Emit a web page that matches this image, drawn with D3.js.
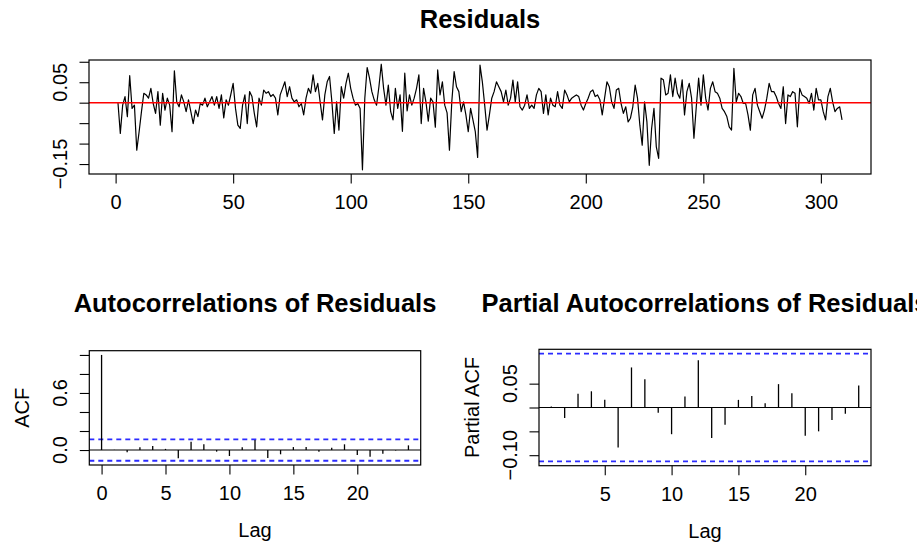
<!DOCTYPE html>
<html>
<head>
<meta charset="utf-8">
<script src="https://cdn.jsdelivr.net/npm/d3@7"></script>
<style>
  body { margin: 0; background: #ffffff; }
  svg text { font-family: "Liberation Sans", Arial, sans-serif; fill: #000; }
</style>
</head>
<body>
<div id="chart"></div>
<script>
// residual series (t = 1..309)
const residuals = [
  0.000, -0.075, -0.006, 0.015, -0.034, 0.066, -0.014, -0.006, -0.116, -0.071,
  -0.022, 0.023, 0.019, 0.011, 0.035, -0.002, -0.026, 0.027, -0.055, 0.023,
  -0.018, 0.011, -0.006, -0.071, 0.078, 0.002, -0.010, 0.019, 0.002, -0.022,
  0.007, -0.022, -0.051, -0.018, -0.034, -0.002, -0.006, 0.011, -0.010, 0.002,
  0.015, -0.006, 0.015, -0.014, 0.019, -0.037, 0.007, -0.006, 0.020, 0.047,
  -0.014, -0.055, -0.063, -0.006, 0.019, -0.051, 0.027, 0.015, -0.026, -0.059,
  0.011, -0.006, 0.031, 0.023, 0.027, 0.015, 0.020, 0.011, -0.030, 0.019,
  0.035, 0.051, 0.015, 0.039, 0.011, 0.002, 0.007, -0.010, -0.002, -0.030,
  0.011, 0.035, 0.023, 0.068, 0.027, 0.047, 0.002, -0.042, 0.019, 0.051,
  0.064, 0.002, -0.075, 0.002, -0.067, 0.039, 0.011, 0.047, 0.072, 0.035,
  0.011, -0.006, -0.002, -0.014, -0.164, 0.011, 0.086, 0.060, 0.027, 0.007,
  -0.006, 0.039, 0.094, 0.035, -0.006, 0.043, -0.022, -0.042, 0.035, -0.014,
  0.019, -0.070, 0.072, -0.020, 0.019, -0.006, 0.011, 0.035, 0.068, -0.051,
  0.035, 0.002, -0.045, 0.011, 0.002, -0.060, 0.080, 0.019, 0.051, -0.006,
  -0.025, -0.116, 0.002, 0.076, 0.039, 0.027, -0.022, 0.002, -0.030, -0.071,
  -0.014, -0.042, -0.071, -0.134, 0.092, 0.051, -0.006, -0.067, -0.030, 0.011,
  0.027, 0.051, 0.039, 0.027, 0.002, 0.031, -0.006, 0.011, 0.055, 0.002,
  0.051, -0.010, -0.018, -0.006, 0.019, -0.014, -0.006, -0.014, 0.019, 0.035,
  0.027, -0.026, 0.019, -0.030, 0.011, -0.006, -0.010, 0.027, -0.006, -0.014,
  0.031, 0.019, 0.002, 0.011, 0.015, 0.019, 0.015, -0.006, -0.018, -0.002,
  0.011, 0.027, 0.031, 0.015, 0.019, 0.007, -0.030, 0.011, 0.051, 0.039,
  0.002, -0.014, 0.031, 0.035, -0.002, -0.026, -0.010, -0.047, -0.038, -0.010,
  0.043, 0.011, -0.055, -0.104, 0.002, -0.047, -0.153, -0.063, -0.014, -0.108,
  -0.136, 0.060, 0.056, 0.019, 0.023, 0.068, 0.015, 0.060, 0.023, 0.011,
  0.056, -0.030, 0.027, 0.047, 0.011, -0.087, -0.010, 0.060, -0.006, 0.068,
  0.011, -0.018, 0.035, 0.051, 0.027, 0.023, 0.011, -0.014, -0.022, -0.034,
  -0.059, -0.067, 0.084, 0.002, 0.023, 0.015, -0.002, -0.002, -0.030, -0.067,
  0.019, 0.035, -0.006, -0.022, -0.038, -0.018, 0.011, 0.047, 0.027, 0.027,
  0.015, -0.002, -0.014, 0.039, -0.051, 0.019, 0.015, 0.027, 0.023, -0.059,
  0.035, 0.019, 0.015, 0.011, -0.002, 0.023, -0.018, 0.035, 0.007, 0.007,
  -0.022, -0.042, 0.015, 0.035, 0.002, -0.022, -0.014, -0.010, -0.042
];

const acfLags = [0, 1, 2, 3, 4, 5, 6, 7, 8, 9, 10, 11, 12, 13, 14, 15, 16, 17, 18, 19, 20, 21, 22, 23, 24];
const acfValues = [1, 0.002, -0.024, 0.028, 0.042, 0.012, -0.087, 0.087, 0.060, -0.017, -0.063, 0.028,
  0.105, -0.084, -0.045, 0.031, 0.031, -0.017, 0.024, 0.060, -0.052, -0.070, -0.038, -0.005, 0.049];

const pacfLags = [1, 2, 3, 4, 5, 6, 7, 8, 9, 10, 11, 12, 13, 14, 15, 16, 17, 18, 19, 20, 21, 22, 23, 24];
const pacfValues = [0.002, -0.022, 0.029, 0.034, 0.016, -0.084, 0.084, 0.059, -0.011, -0.056, 0.023, 0.099,
  -0.064, -0.036, 0.016, 0.024, 0.009, 0.049, 0.030, -0.059, -0.050, -0.026, -0.013, 0.046];

const ciBound = 0.113;

// tick values and the labels R actually kept (overlapping ones dropped)
const topXTicks = [0, 50, 100, 150, 200, 250, 300];
const topXLabels = ["0", "50", "100", "150", "200", "250", "300"];
const topYTicks = [-0.15, -0.10, -0.05, 0, 0.05, 0.10];
const topYLabels = ["\u22120.15", "", "", "", "0.05", ""];
const acfXTicks = [0, 5, 10, 15, 20];
const acfXLabels = ["0", "5", "10", "15", "20"];
const acfYTicks = [0, 0.2, 0.4, 0.6, 0.8, 1.0];
const acfYLabels = ["0.0", "", "", "0.6", "", ""];
const pacfXTicks = [5, 10, 15, 20];
const pacfXLabels = ["5", "10", "15", "20"];
const pacfYTicks = [-0.10, -0.05, 0, 0.05];
const pacfYLabels = ["\u22120.10", "", "", "0.05"];

const W = 917, H = 544;
const AXIS_FONT = 20, TITLE_FONT = 25.5, TICK = 9.5;

const svg = d3.select("#chart").append("svg")
  .attr("width", W).attr("height", H)
  .attr("viewBox", "0 0 " + W + " " + H);

// R style axis range: data range widened by 4% on each side
var rpad = function (ext) {
  var d = (ext[1] - ext[0]) * 0.04;
  return [ext[0] - d, ext[1] + d];
};

function drawPanel(box, x, y, opts) {
  var g = svg.append("g");

  // x axis ticks + labels
  var gx = g.append("g")
    .attr("transform", "translate(0," + box.bottom + ")")
    .call(d3.axisBottom(x).tickValues(opts.xTicks)
      .tickFormat(function (d, i) { return opts.xLabels[i]; })
      .tickSize(TICK).tickPadding(11.5));
  gx.select(".domain").remove();
  gx.selectAll("line").attr("stroke", "#000").attr("stroke-width", 1.1);
  gx.selectAll("text").attr("font-size", AXIS_FONT + "px").attr("font-family", null);

  // y axis ticks, labels rotated like R's las = 0
  var gy = g.append("g")
    .attr("transform", "translate(" + box.left + ",0)")
    .call(d3.axisLeft(y).tickValues(opts.yTicks).tickFormat("").tickSize(TICK));
  gy.select(".domain").remove();
  gy.selectAll("line").attr("stroke", "#000").attr("stroke-width", 1.1);

  g.selectAll(".ylab")
    .data(opts.yTicks.filter(function (d, i) { return opts.yLabels[i] !== ""; }))
    .enter()
    .append("text")
    .attr("class", "ylab")
    .attr("transform", function (d) {
      return "translate(" + (box.left - 22) + "," + y(d) + ") rotate(-90)";
    })
    .attr("text-anchor", "middle")
    .attr("font-size", AXIS_FONT + "px")
    .text(function (d) { return opts.yLabels[opts.yTicks.indexOf(d)]; });

  if (opts.xTitle) {
    g.append("text")
      .attr("x", (box.left + box.right) / 2)
      .attr("y", box.bottom + 72)
      .attr("text-anchor", "middle")
      .attr("font-size", AXIS_FONT + "px")
      .text(opts.xTitle);
  }
  if (opts.yTitle) {
    g.append("text")
      .attr("transform", "translate(" + (box.left - 60) + "," + ((box.top + box.bottom) / 2) + ") rotate(-90)")
      .attr("text-anchor", "middle")
      .attr("font-size", AXIS_FONT + "px")
      .text(opts.yTitle);
  }

  // the right hand title runs past the page edge in the original too
  g.append("text")
    .attr("x", (box.left + box.right) / 2)
    .attr("y", opts.titleY)
    .attr("text-anchor", "middle")
    .attr("font-size", TITLE_FONT + "px")
    .attr("font-weight", "bold")
    .text(opts.title);

  return g;
}

function drawFrame(box) {
  svg.append("rect")
    .attr("x", box.left).attr("y", box.top)
    .attr("width", box.right - box.left).attr("height", box.bottom - box.top)
    .attr("fill", "none").attr("stroke", "#000").attr("stroke-width", 1.2);
}

/* ---- top: residual series ---- */
var topBox = { left: 89, right: 871, top: 60, bottom: 174 };
var xTop = d3.scaleLinear().domain(rpad([1, residuals.length])).range([topBox.left, topBox.right]);
var yTop = d3.scaleLinear().domain(rpad(d3.extent(residuals))).range([topBox.bottom, topBox.top]);

drawPanel(topBox, xTop, yTop, {
  xTicks: topXTicks, xLabels: topXLabels,
  yTicks: topYTicks, yLabels: topYLabels,
  title: "Residuals", titleY: 28
});

svg.append("path")
  .datum(residuals)
  .attr("fill", "none")
  .attr("stroke", "#000")
  .attr("stroke-width", 1.2)
  .attr("stroke-linejoin", "round")
  .attr("d", d3.line()
    .x(function (d, i) { return xTop(i + 1); })
    .y(function (d) { return yTop(d); }));

svg.append("line")
  .attr("x1", topBox.left).attr("x2", topBox.right)
  .attr("y1", yTop(0)).attr("y2", yTop(0))
  .attr("stroke", "#ff0000").attr("stroke-width", 1.4);

drawFrame(topBox);

/* ---- bottom left: ACF ---- */
var acfBox = { left: 89.3, right: 420.7, top: 350.7, bottom: 465 };
var xAcf = d3.scaleLinear().domain(rpad(d3.extent(acfLags))).range([acfBox.left, acfBox.right]);
var yAcf = d3.scaleLinear()
  .domain(rpad([Math.min(-ciBound, d3.min(acfValues)), Math.max(ciBound, d3.max(acfValues))]))
  .range([acfBox.bottom, acfBox.top]);

drawPanel(acfBox, xAcf, yAcf, {
  xTicks: acfXTicks, xLabels: acfXLabels,
  yTicks: acfYTicks, yLabels: acfYLabels,
  xTitle: "Lag", yTitle: "ACF",
  title: "Autocorrelations of Residuals", titleY: 312
});

/* ---- bottom right: PACF ---- */
var pacfBox = { left: 539, right: 871, top: 349.3, bottom: 465.7 };
var xPacf = d3.scaleLinear().domain(rpad(d3.extent(pacfLags))).range([pacfBox.left, pacfBox.right]);
var yPacf = d3.scaleLinear()
  .domain(rpad([Math.min(-ciBound, d3.min(pacfValues)), Math.max(ciBound, d3.max(pacfValues))]))
  .range([pacfBox.bottom, pacfBox.top]);

drawPanel(pacfBox, xPacf, yPacf, {
  xTicks: pacfXTicks, xLabels: pacfXLabels,
  yTicks: pacfYTicks, yLabels: pacfYLabels,
  xTitle: "Lag", yTitle: "Partial ACF",
  title: "Partial Autocorrelations of Residuals", titleY: 312
});

function drawSpikes(box, x, y, lags, vals) {
  // zero line
  svg.append("line")
    .attr("x1", box.left).attr("x2", box.right)
    .attr("y1", y(0)).attr("y2", y(0))
    .attr("stroke", "#000").attr("stroke-width", 1.2);
  // confidence bounds
  [ciBound, -ciBound].forEach(function (c) {
    svg.append("line")
      .attr("x1", box.left).attr("x2", box.right)
      .attr("y1", y(c)).attr("y2", y(c))
      .attr("stroke", "#2b2bff").attr("stroke-width", 1.8)
      .attr("stroke-dasharray", "5,4");
  });
  svg.append("g").selectAll("line")
    .data(vals)
    .enter()
    .append("line")
    .attr("x1", function (d, i) { return x(lags[i]); })
    .attr("x2", function (d, i) { return x(lags[i]); })
    .attr("y1", y(0))
    .attr("y2", function (d) { return y(d); })
    .attr("stroke", "#000").attr("stroke-width", 1.3);
  drawFrame(box);
}

drawSpikes(acfBox, xAcf, yAcf, acfLags, acfValues);
drawSpikes(pacfBox, xPacf, yPacf, pacfLags, pacfValues);
</script>
</body>
</html>
